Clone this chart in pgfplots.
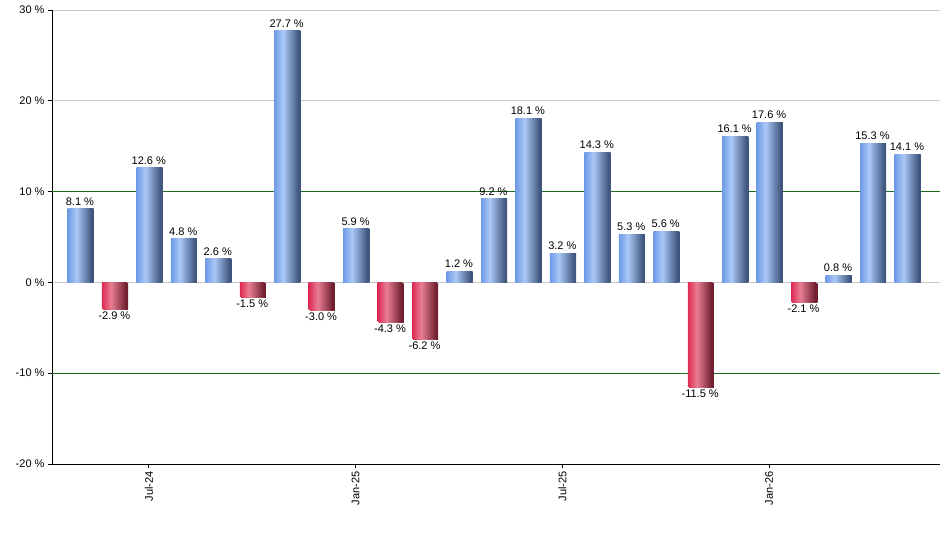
\documentclass[border=0pt]{standalone}
\usepackage{pgfplots}
\pgfplotsset{compat=1.18}
\usepackage{fontspec}
\setmainfont{Liberation Sans}

\definecolor{blueL}{HTML}{6E9AE6}
\definecolor{blueM}{HTML}{ABC8F7}
\definecolor{blueR}{HTML}{3A5078}
\definecolor{redL}{HTML}{DD2A52}
\definecolor{redM}{HTML}{E87E94}
\definecolor{redR}{HTML}{6A1A2B}
\definecolor{gridgray}{HTML}{C8C8C8}
\definecolor{gridgreen}{HTML}{1E6B1E}

% stops sit in the middle 50bp, which is what gets stretched over each bar
\pgfdeclarehorizontalshading{bluebar}{100bp}{color(0bp)=(blueL); color(25bp)=(blueL);
  color(43bp)=(blueM); color(75bp)=(blueR); color(100bp)=(blueR)}
\pgfdeclarehorizontalshading{redbar}{100bp}{color(0bp)=(redL); color(25bp)=(redL);
  color(43bp)=(redM); color(75bp)=(redR); color(100bp)=(redR)}

\newcommand{\lbl}{\fontsize{11}{13}\selectfont}

% one \addplot per bar, so that each bar gets its own gradient
\pgfplotsset{
    pos/.style={draw=none, shade, shading=bluebar,
        preaction={fill=gray!75, transform canvas={shift={(1.3pt,0pt)}}}},
    neg/.style={draw=none, shade, shading=redbar,
        preaction={fill=gray!75, transform canvas={shift={(1.3pt,-1.1pt)}}}},
}

\begin{document}
\begin{tikzpicture}
\useasboundingbox (0,0) rectangle (940pt,550pt);
\begin{axis}[
    at={(52pt,86pt)}, anchor=south west,
    scale only axis,
    width=888pt, height=454pt,
    xmin=-0.81, xmax=24.96,
    ymin=-20, ymax=30,
    ytick={-20,-10,...,30},
    yticklabels={-20 \%,-10 \%,0 \%,10 \%,20 \%,30 \%},
    xtick={2,8,14,20},
    xticklabels={Jul-24,Jan-25,Jul-25,Jan-26},
    x tick label style={rotate=90, anchor=east},
    ticklabel style={font=\lbl},
    tick align=outside,
    major tick length=4pt,
    tick style={black, line width=0.8pt},
    axis x line*=bottom, axis y line*=left,
    axis line style={-, black, line width=0.9pt},
    ymajorgrids,
    grid style={gridgray, line width=0.8pt},
    extra y ticks={-10,10},
    extra y tick labels={},
    extra y tick style={grid style={gridgreen, line width=0.9pt}},
    ybar, bar width=0.72, bar shift=0pt,
    nodes near coords={\pgfmathprintnumber[fixed,fixed zerofill,precision=1,assume math mode=true]{\pgfplotspointmeta}~\%},
    every node near coord/.append style={font=\lbl, black},
    clip=false,
]
\addplot[pos] coordinates {(0,8.1)};
\addplot[neg] coordinates {(1,-2.9)};
\addplot[pos] coordinates {(2,12.6)};
\addplot[pos] coordinates {(3,4.8)};
\addplot[pos] coordinates {(4,2.6)};
\addplot[neg] coordinates {(5,-1.5)};
\addplot[pos] coordinates {(6,27.7)};
\addplot[neg] coordinates {(7,-3.0)};
\addplot[pos] coordinates {(8,5.9)};
\addplot[neg] coordinates {(9,-4.3)};
\addplot[neg] coordinates {(10,-6.2)};
\addplot[pos] coordinates {(11,1.2)};
\addplot[pos] coordinates {(12,9.2)};
\addplot[pos] coordinates {(13,18.1)};
\addplot[pos] coordinates {(14,3.2)};
\addplot[pos] coordinates {(15,14.3)};
\addplot[pos] coordinates {(16,5.3)};
\addplot[pos] coordinates {(17,5.6)};
\addplot[neg] coordinates {(18,-11.5)};
\addplot[pos] coordinates {(19,16.1)};
\addplot[pos] coordinates {(20,17.6)};
\addplot[neg] coordinates {(21,-2.1)};
\addplot[pos] coordinates {(22,0.8)};
\addplot[pos] coordinates {(23,15.3)};
\addplot[pos] coordinates {(24,14.1)};
\end{axis}
\end{tikzpicture}
\end{document}
